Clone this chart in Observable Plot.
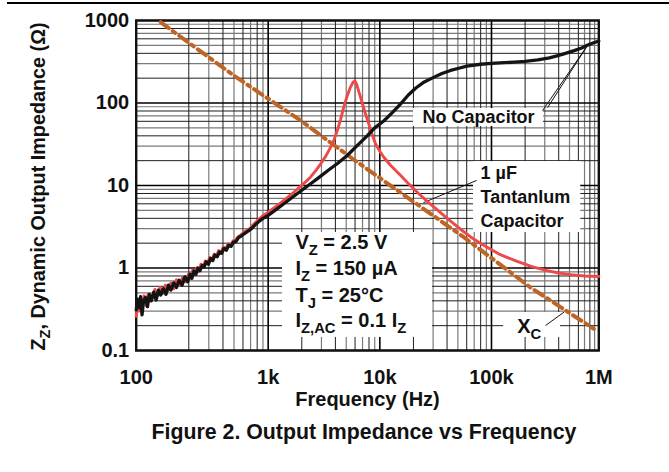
<!DOCTYPE html>
<html>
<head>
<meta charset="utf-8">
<script src="https://cdn.jsdelivr.net/npm/d3@7"></script>
<script src="https://cdn.jsdelivr.net/npm/@observablehq/plot@0.6"></script>
<style>
  html, body { margin: 0; padding: 0; background: #fff; }
  body { width: 669px; height: 472px; position: relative; overflow: hidden;
         font-family: "Liberation Sans", Arial, sans-serif; }
  #topline { position: absolute; left: 7px; top: 2px; width: 662px; height: 2px; background: #000; }
  #chart { position: absolute; left: 0; top: 0; }
  #title { position: absolute; top: 420px; left: 0; width: 728px; text-align: center;
           font-weight: bold; font-size: 21.3px; color: #111; }
</style>
</head>
<body>
<div id="topline"></div>
<div id="chart"></div>
<div id="title">Figure 2. Output Impedance vs Frequency</div>
<script>
// ---------- data ----------
const noCapHz = [100,102,104,106,108,110,113,116,119,122,126,130,134,138,143,148,153,158,164,170,176,183,190,197,205,213,222,231,241,251,262,273,285,298,311,325,340,356,372,390,408,428,449,471,495,520,548,578,610,645,685,730,780,835,900,1000,
  1200,1400,1650,2000,2400,2800,3500,4200,5100,6200,7700,9000,10900,13000,15300,18000,21000,25000,30000,36000,43000,50000,60000,80000,100000,130000,160000,200000,260000,330000,400000,460000,550000,650000,750000,850000,1000000];
const noCapOhm = [0.31,0.42,0.33,0.45,0.27,0.39,0.44,0.34,0.48,0.40,0.51,0.41,0.54,0.47,0.56,0.48,0.62,0.54,0.66,0.58,0.71,0.62,0.78,0.68,0.84,0.75,0.92,0.84,1.00,0.93,1.07,1.03,1.19,1.11,1.31,1.23,1.44,1.37,1.56,1.51,1.73,1.64,1.89,1.83,2.06,2.09,2.33,2.44,2.58,2.72,2.87,3.1,3.4,3.7,4.0,4.35,
  5.2,6.1,7.2,8.75,10.5,12.3,15.5,18.6,23.1,30,40,50,61,77,97,125,152,180,203,228,248,262,280,295,302,308,313,320,333,352,378,400,432,465,500,530,565];

const tantHz = [100,102,104,106,108,111,114,117,120,124,128,132,137,142,147,152,158,164,170,177,184,191,199,207,216,225,235,245,256,267,279,292,305,319,334,350,366,384,402,422,443,465,490,515,545,575,610,645,685,730,780,835,900,1000,
  1200,1400,1650,1950,2200,2400,2700,2950,3300,3615,3870,4150,4450,4750,5100,5460,5750,5970,6200,6710,7300,7960,8500,9140,10000,10860,12500,15300,18000,22000,27000,32700,38000,43000,52800,65000,80000,91600,120000,170000,230000,315000,400000,511000,700000,1000000];
const tantOhm = [0.26,0.37,0.30,0.41,0.33,0.46,0.35,0.48,0.40,0.44,0.55,0.45,0.58,0.49,0.62,0.53,0.66,0.56,0.72,0.62,0.76,0.68,0.84,0.75,0.94,0.84,1.00,0.90,1.11,1.03,1.22,1.12,1.34,1.25,1.47,1.38,1.63,1.52,1.79,1.68,1.96,1.90,2.13,2.18,2.41,2.52,2.70,2.85,3.0,3.3,3.6,3.95,4.3,4.75,
  5.7,6.7,8.0,9.8,11.3,12.7,15.5,18.3,23,29,35,46,63,89,122,156,178,186,168,118,80,56,42,32,26,22,17.5,13.3,10.6,8.1,6.3,5.05,4.25,3.7,2.95,2.38,1.98,1.78,1.45,1.2,1.04,0.93,0.87,0.83,0.80,0.79];

const xcHz  = [138, 498, 1950, 5460, 56500, 224000, 883000];
const xcOhm = [954, 215, 61.4, 22, 2.36, 0.58, 0.183];

const xTickHz = [100, 1000, 10000, 100000, 1000000];
const xTickLabels = ["100", "1k", "10k", "100k", "1M"];
const yTickOhm = [0.1, 1, 10, 100, 1000];
const yTickLabels = ["0.1", "1", "10", "100", "1000"];

// label annotations (data units: Hz, ohm)
const curveNoteText = ["No Capacitor"];
const curveNoteHz = [76700];
const curveNoteOhm = [66.7];
const capNoteText = ["1 µF", "Tantanlum", "Capacitor"];
const capNoteHz = [79800, 79800, 79800];
const capNoteOhm = [14.0, 7.16, 3.66];
const condText = ["V_{Z} = 2.5 V", "I_{Z} = 150 µA", "T_{J} = 25°C", "I_{Z,AC} = 0.1 I_{Z}"];
const condHz = [1754, 1754, 1754, 1754];
const condOhm = [2.06, 0.977, 0.464, 0.231];
const xcNoteText = ["X_{C}"];
const xcNoteHz = [170000];
const xcNoteOhm = [0.195];

// white label backgrounds
const boxHz1 = [20000, 69000, 1343, 128500];
const boxHz2 = [292000, 637000, 29650, 415000];
const boxOhm1 = [51.9, 2.69, 0.144, 0.144];
const boxOhm2 = [85.8, 19.5, 2.69, 0.289];

// leader lines
const leadHz1 = [287000, 318000, 73500, 305000];
const leadOhm1 = [81, 88, 11.5, 0.201];
const leadHz2 = [740000, 730000, 24600, 445000];
const leadOhm2 = [484, 470, 6.2, 0.291];

// warped frequency axis of the reference (first decade stretched, last compressed)
const xKnotHz = [100, 200, 1000, 600000, 1000000];
const xKnotPos = [0, 0.471, 1.182, 3.960, 4.143];

// ---------- build ----------
const warp = d3.scaleLinear().domain(xKnotHz.map(Math.log10)).range(xKnotPos);
const pts = (hz, ohm) => hz.map((f, i) => ({f, z: ohm[i]}));
const noCap = pts(noCapHz, noCapOhm);
const tant = pts(tantHz, tantOhm);
const xc = pts(xcHz, xcOhm);
const mk = (txt, hz, ohm) => txt.map((t, i) => ({t, f: hz[i], z: ohm[i]}));
const curveNotes = mk(curveNoteText, curveNoteHz, curveNoteOhm);
const capNotes = mk(capNoteText, capNoteHz, capNoteOhm);
const condNotes = mk(condText, condHz, condOhm);
const xcNotes = mk(xcNoteText, xcNoteHz, xcNoteOhm);
const boxes = boxHz1.map((f, i) => ({f1: f, f2: boxHz2[i], z1: boxOhm1[i], z2: boxOhm2[i]}));
const leaders = leadHz1.map((f, i) => ({f1: f, z1: leadOhm1[i], f2: leadHz2[i], z2: leadOhm2[i]}));

const xMinorEven = [], xMinorOdd = [], yMinorEven = [], yMinorOdd = [];
for (const d of [100, 1000, 10000, 100000]) for (let k = 2; k <= 9; k++) (k % 2 ? xMinorOdd : xMinorEven).push(k * d);
for (const d of [0.1, 1, 10, 100]) for (let k = 2; k <= 9; k++) (k % 2 ? yMinorOdd : yMinorEven).push(+(k * d).toPrecision(3));

const font = "'Liberation Sans', Arial, sans-serif";
const ink = "#111";
const plot = Plot.plot({
  width: 669, height: 415,
  marginLeft: 135.7, marginRight: 70.7, marginTop: 20, marginBottom: 65,
  x: {type: "linear", domain: [0, 4.143], transform: f => warp(Math.log10(f)), axis: null},
  y: {type: "log", domain: [0.1, 1000], axis: null},
  style: {fontFamily: font, fontWeight: "bold", fontSize: "20px", color: ink, background: "transparent", overflow: "visible"},
  marks: [
    Plot.ruleX(xMinorOdd, {stroke: "#7a7a7a", strokeWidth: 1.2}),
    Plot.ruleY(yMinorOdd, {stroke: "#7a7a7a", strokeWidth: 1.2}),
    Plot.ruleX(xMinorEven, {stroke: "#1e1e1e", strokeWidth: 1}),
    Plot.ruleY(yMinorEven, {stroke: "#1e1e1e", strokeWidth: 1}),
    Plot.ruleX(xTickHz, {stroke: "#000", strokeWidth: 1.6}),
    Plot.ruleY(yTickOhm, {stroke: "#000", strokeWidth: 1.6}),
    Plot.rect(boxes, {x1: "f1", x2: "f2", y1: "z1", y2: "z2", fill: "white"}),
    Plot.frame({stroke: ink, strokeWidth: 2.4}),
    Plot.link(leaders, {x1: "f1", y1: "z1", x2: "f2", y2: "z2", stroke: ink, strokeWidth: 1}),
    Plot.line(xc, {x: "f", y: "z", stroke: "#BE6526", strokeWidth: 4, strokeDasharray: "10,5,3,5"}),
    Plot.line(tant, {x: "f", y: "z", stroke: "#F04848", strokeWidth: 2.9, strokeLinejoin: "round"}),
    Plot.line(noCap, {x: "f", y: "z", stroke: "#141414", strokeWidth: 3.3, strokeLinejoin: "round"}),
    Plot.text(curveNotes, {x: "f", y: "z", text: "t", textAnchor: "middle", fontSize: 18, fill: ink}),
    Plot.text(capNotes, {x: "f", y: "z", text: "t", textAnchor: "start", fontSize: 18, fill: ink}),
    Plot.text(condNotes, {x: "f", y: "z", text: "t", textAnchor: "start", fontSize: 20, fill: ink}),
    Plot.text(xcNotes, {x: "f", y: "z", text: "t", textAnchor: "start", fontSize: 20, fill: ink}),
    Plot.text(xTickHz, {x: d => d, frameAnchor: "bottom", lineAnchor: "middle", textAnchor: "middle", dy: 27, text: (d, i) => xTickLabels[i], fill: ink}),
    Plot.text(yTickOhm, {y: d => d, frameAnchor: "left", lineAnchor: "middle", dx: -7, textAnchor: "end", text: (d, i) => yTickLabels[i], fill: ink}),
    Plot.text(["Frequency (Hz)"], {frameAnchor: "bottom", lineAnchor: "middle", textAnchor: "middle", dy: 49, text: d => d, fill: ink}),
    Plot.text(["Z_{Z}, Dynamic Output Impedance (Ω)"], {frameAnchor: "left", textAnchor: "middle", lineAnchor: "middle", dx: -98, dy: 1, rotate: -90, fontSize: 19.8, text: d => d, fill: ink})
  ]
});
document.getElementById("chart").appendChild(plot);

// subscripts: turn _{...} into lowered, smaller tspans
plot.querySelectorAll("text").forEach(t => {
  const s = t.textContent;
  if (!s.includes("_{")) return;
  const F = parseFloat(getComputedStyle(t).fontSize) || 20;
  while (t.firstChild) t.removeChild(t.firstChild);
  let low = false;
  for (const p of s.split(/(_\{[^}]*\})/)) {
    if (!p) continue;
    const ts = document.createElementNS("http://www.w3.org/2000/svg", "tspan");
    if (p.startsWith("_{")) {
      ts.textContent = p.slice(2, -1);
      ts.setAttribute("font-size", (F * 0.74).toFixed(1));
      if (!low) { ts.setAttribute("dy", (F * 0.3).toFixed(1)); low = true; }
    } else {
      ts.textContent = p;
      if (low) { ts.setAttribute("dy", (-F * 0.3).toFixed(1)); low = false; }
    }
    t.appendChild(ts);
  }
});
</script>
</body>
</html>
